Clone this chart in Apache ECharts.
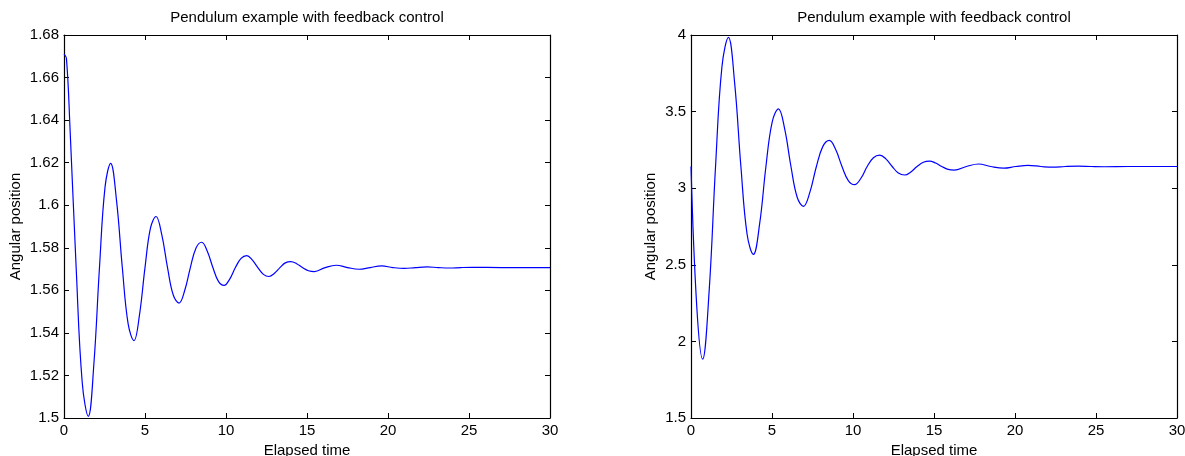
<!DOCTYPE html>
<html>
<head>
<meta charset="utf-8">
<title>Pendulum example with feedback control</title>
<script src="https://cdn.jsdelivr.net/npm/echarts@6/dist/echarts.min.js"></script>
<style>
  html, body { margin: 0; padding: 0; background: #fff; }
  #chart { width: 1185px; height: 456px; }
</style>
</head>
<body>
<div id="chart"></div>
<script>
// values (time in seconds, angle in radians)
var leftTime = [0, 0.15, 0.375, 0.75, 1.125, 1.5, 1.845, 2.19, 2.535, 2.88, 3.24, 3.6, 3.96, 4.32,
  4.66, 5.0, 5.34, 5.68, 6.035, 6.39, 6.745, 7.1, 7.45, 7.8, 8.15, 8.5, 8.845, 9.19, 9.535, 9.88,
  10.23, 10.58, 10.93, 11.28, 11.62, 11.965, 12.31, 12.65, 12.99, 13.33, 13.66, 14.0, 14.36, 14.72,
  15.09, 15.45, 16.12, 16.8, 17.5, 18.2, 18.9, 19.6, 20.3, 21.0, 21.7, 22.4, 23.1, 23.8, 24.5,
  25.2, 27.0, 30.0];
var leftAngle = [1.6710, 1.6690, 1.6356, 1.5707, 1.5167, 1.5008, 1.5255, 1.5707, 1.6086, 1.6197, 1.6024,
  1.5707, 1.5442, 1.5364, 1.5485, 1.5707, 1.5893, 1.5947, 1.5862, 1.5707, 1.5578, 1.5540, 1.5599,
  1.5707, 1.5799, 1.5826, 1.5784, 1.5707, 1.5642, 1.5623, 1.5653, 1.5707, 1.5750, 1.5763, 1.5743,
  1.5707, 1.5675, 1.5665, 1.5680, 1.5707, 1.5729, 1.5735, 1.5725, 1.5707, 1.5692, 1.5688, 1.5707,
  1.5718, 1.5707, 1.5699, 1.5707, 1.5715, 1.5707, 1.5703, 1.5707, 1.5710, 1.5707, 1.5705, 1.5707,
  1.5708, 1.5707, 1.5707];

var rightTime = [0, 0.36, 0.72, 1.12, 1.515, 1.91, 2.31, 2.695, 3.08, 3.465, 3.85, 4.24, 4.625,
  5.01, 5.4, 5.785, 6.17, 6.555, 6.94, 7.34, 7.74, 8.14, 8.54, 8.93, 9.32, 9.71, 10.1, 10.49,
  10.875, 11.26, 11.65, 12.04, 12.42, 12.8, 13.19, 13.57, 13.955, 14.34, 14.72, 15.1, 15.485,
  15.87, 16.25, 17.0, 17.75, 18.5, 19.3, 20.05, 20.8, 21.6, 22.35, 23.1, 23.9, 24.7, 25.5, 27.0, 30.0];
var rightAngle = [3.1416, 2.22, 1.884, 2.328, 3.1416, 3.793, 3.984, 3.686, 3.1416, 2.698, 2.568,
  2.770, 3.1416, 3.432, 3.518, 3.385, 3.1416, 2.941, 2.882, 2.974, 3.1416, 3.273, 3.312, 3.252,
  3.1416, 3.050, 3.023, 3.065, 3.1416, 3.199, 3.216, 3.190, 3.1416, 3.099, 3.086, 3.106, 3.1416,
  3.169, 3.177, 3.164, 3.1416, 3.123, 3.118, 3.1416, 3.158, 3.1416, 3.131, 3.1416, 3.149, 3.1416,
  3.137, 3.1416, 3.144, 3.1416, 3.140, 3.1416, 3.1416];

var titleText = "Pendulum example with feedback control";
var xName = "Elapsed time";
var yName = "Angular position";

var FONT = "'Liberation Sans', Arial, Helvetica, sans-serif";

function pairs(xs, ys) {
  return xs.map(function (x, i) { return [x, ys[i]]; });
}

// main axis (with labels) or mirrored axis (box side, ticks only)
function makeX(grid, pos, withLabels) {
  return {
    type: "value", gridIndex: grid, position: pos,
    min: 0, max: 30, interval: 5,
    name: withLabels ? xName : "", nameLocation: "middle", nameGap: 23,
    nameTextStyle: { color: "#000", fontFamily: FONT, fontSize: 15 },
    axisLine: { show: true, onZero: false, lineStyle: { color: "#000", width: 1.2 } },
    axisTick: { show: true, inside: true, length: 5, lineStyle: { color: "#000" } },
    axisLabel: { show: withLabels, color: "#000", fontFamily: FONT, fontSize: 15, margin: 5 },
    splitLine: { show: false }
  };
}
function makeY(grid, pos, withLabels, min, max, step, gap) {
  return {
    type: "value", gridIndex: grid, position: pos,
    min: min, max: max, interval: step,
    name: withLabels ? yName : "", nameLocation: "middle", nameGap: gap,
    nameTextStyle: { color: "#000", fontFamily: FONT, fontSize: 15 },
    axisLine: { show: true, onZero: false, lineStyle: { color: "#000", width: 1.2 } },
    axisTick: { show: true, inside: true, length: 5, lineStyle: { color: "#000" } },
    axisLabel: { show: withLabels, color: "#000", fontFamily: FONT, fontSize: 15, margin: 5 },
    splitLine: { show: false }
  };
}

var chart = echarts.init(document.getElementById("chart"));
chart.setOption({
  backgroundColor: "#fff",
  animation: false,
  graphic: [
    { type: "text", x: 307, y: 18, style: { text: titleText, fill: "#000", font: "15px " + FONT, align: "center", verticalAlign: "middle" } },
    { type: "text", x: 934, y: 18, style: { text: titleText, fill: "#000", font: "15px " + FONT, align: "center", verticalAlign: "middle" } }
  ],
  grid: [
    { left: 64, top: 35, width: 486, height: 383, outerBoundsMode: "none", containLabel: false },
    { left: 691, top: 35, width: 486, height: 383, outerBoundsMode: "none", containLabel: false }
  ],
  xAxis: [
    makeX(0, "bottom", true), makeX(0, "top", false),
    makeX(1, "bottom", true), makeX(1, "top", false)
  ],
  yAxis: [
    makeY(0, "left", true, 1.5, 1.68, 0.02, 41), makeY(0, "right", false, 1.5, 1.68, 0.02, 0),
    makeY(1, "left", true, 1.5, 4, 0.5, 33), makeY(1, "right", false, 1.5, 4, 0.5, 0)
  ],
  series: [
    {
      type: "line", xAxisIndex: 0, yAxisIndex: 0,
      data: pairs(leftTime, leftAngle),
      showSymbol: false, smooth: 0.4,
      lineStyle: { color: "#0000ff", width: 1.2 }
    },
    {
      type: "line", xAxisIndex: 2, yAxisIndex: 2,
      data: pairs(rightTime, rightAngle),
      showSymbol: false, smooth: 0.4,
      lineStyle: { color: "#0000ff", width: 1.2 }
    }
  ]
});
</script>
</body>
</html>
